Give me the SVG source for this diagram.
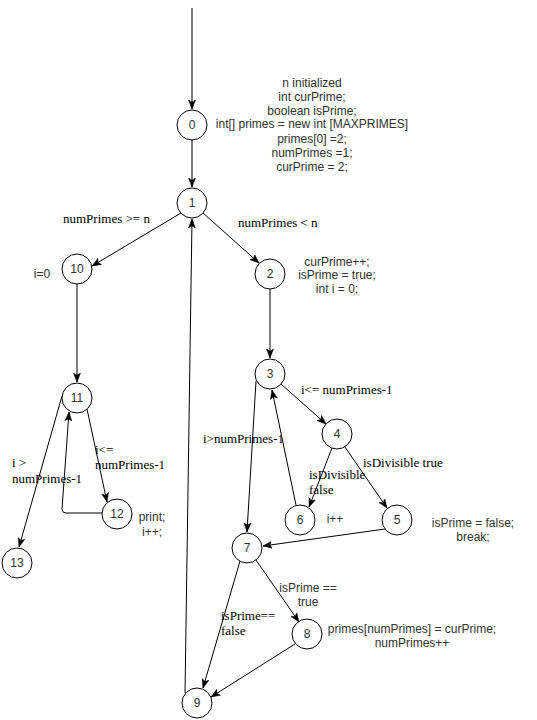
<svg xmlns="http://www.w3.org/2000/svg" width="537" height="720" viewBox="0 0 537 720">
<style>
.n circle{fill:#fff;stroke:#000;stroke-width:1}
.n text{font-family:"Liberation Sans",Arial,sans-serif;font-size:12px;fill:#333;text-anchor:middle}
.e path{fill:none;stroke:#000;stroke-width:1;marker-end:url(#arr)}
.a{font-family:"Liberation Sans",Arial,sans-serif;font-size:12px;fill:#333;text-anchor:middle}
.s{font-family:"Liberation Serif","Times New Roman",serif;font-size:13px;fill:#000}
</style>
<defs>
<marker id="arr" markerUnits="userSpaceOnUse" markerWidth="10" markerHeight="8" refX="9" refY="4" orient="auto">
<path d="M0,0.5 L9,4 L0,7.5 L2.2,4 Z" fill="#000" stroke="#000" stroke-width="0.5"/>
</marker>
</defs>
<g id="connectors" class="e">
<path d="M192,8 L192,109"/>
<path d="M192,140 L192,187"/>
<path d="M181,213 L92,266"/>
<path d="M203,213 L259,263"/>
<path d="M77,284 L77,382"/>
<path d="M270,289 L270,358"/>
<path d="M281,384 L326,424"/>
<path d="M256,381 L247,532"/>
<path d="M296,505 L272,390"/>
<path d="M332,448 L309,507"/>
<path d="M345,447 L387,508"/>
<path d="M385,529 L263,546"/>
<path d="M256,560 L299,622"/>
<path d="M240,561 L203,688"/>
<path d="M295,644 L211,697"/>
<path d="M185,693 L192,219"/>
<path d="M87,409 L107,502"/>
<path d="M102,513 L66,513 Q62,513 62,509 L69,412"/>
<path d="M62,396 L19,547"/>
</g>
<g id="node0" class="n"><circle cx="192" cy="125" r="15"/><text x="192" y="129">0</text></g>
<g id="node1" class="n"><circle cx="192" cy="203" r="15"/><text x="192" y="207">1</text></g>
<g id="node2" class="n"><circle cx="270" cy="274" r="15"/><text x="270" y="278">2</text></g>
<g id="node3" class="n"><circle cx="270" cy="374" r="15"/><text x="270" y="378">3</text></g>
<g id="node4" class="n"><circle cx="337" cy="434" r="15"/><text x="337" y="438">4</text></g>
<g id="node5" class="n"><circle cx="397" cy="520" r="15"/><text x="397" y="524">5</text></g>
<g id="node6" class="n"><circle cx="300" cy="520" r="15"/><text x="300" y="524">6</text></g>
<g id="node7" class="n"><circle cx="247" cy="548" r="15"/><text x="247" y="552">7</text></g>
<g id="node8" class="n"><circle cx="307" cy="634" r="15"/><text x="307" y="638">8</text></g>
<g id="node9" class="n"><circle cx="197" cy="703" r="15"/><text x="197" y="707">9</text></g>
<g id="node10" class="n"><circle cx="77" cy="269" r="15"/><text x="77" y="273">10</text></g>
<g id="node11" class="n"><circle cx="77" cy="398" r="15"/><text x="77" y="402">11</text></g>
<g id="node12" class="n"><circle cx="117" cy="514" r="15"/><text x="117" y="518">12</text></g>
<g id="node13" class="n"><circle cx="17" cy="563" r="15"/><text x="17" y="567">13</text></g>
<g id="labels">
<text class="a" x="312" y="87">n initialized</text>
<text class="a" x="312" y="101">int curPrime;</text>
<text class="a" x="312" y="115">boolean isPrime;</text>
<text class="a" x="312" y="128">int[] primes = new int [MAXPRIMES]</text>
<text class="a" x="312" y="143">primes[0] =2;</text>
<text class="a" x="312" y="157">numPrimes =1;</text>
<text class="a" x="312" y="171">curPrime = 2;</text>
<text class="s" x="238" y="227">numPrimes &lt; n</text>
<text class="s" x="63" y="223">numPrimes &gt;= n</text>
<text class="a" x="42" y="278">i=0</text>
<text class="a" x="337" y="266">curPrime++;</text>
<text class="a" x="337" y="279">isPrime = true;</text>
<text class="a" x="337" y="292.5">int i = 0;</text>
<text class="s" x="301" y="394">i&lt;= numPrimes-1</text>
<text class="s" x="203" y="443">i&gt;numPrimes-1</text>
<text class="s" x="363" y="467">isDivisible true</text>
<text class="s" x="309" y="479">isDivisible</text>
<text class="s" x="309" y="494">false</text>
<text class="a" x="335" y="523">i++</text>
<text class="a" x="473" y="527">isPrime = false;</text>
<text class="a" x="473" y="541">break;</text>
<text class="a" x="308" y="592">isPrime ==</text>
<text class="a" x="308" y="606">true</text>
<text class="s" x="221" y="620">isPrime==</text>
<text class="s" x="221" y="635">false</text>
<text class="a" x="412" y="633">primes[numPrimes] = curPrime;</text>
<text class="a" x="412" y="647">numPrimes++</text>
<text class="a" x="152" y="521">print;</text>
<text class="a" x="152" y="536">i++;</text>
<text class="s" x="12" y="467">i &gt;</text>
<text class="s" x="12" y="483">numPrimes-1</text>
<text class="s" x="95" y="454">i&lt;=</text>
<text class="s" x="95" y="469">numPrimes-1</text>
</g>
</svg>
